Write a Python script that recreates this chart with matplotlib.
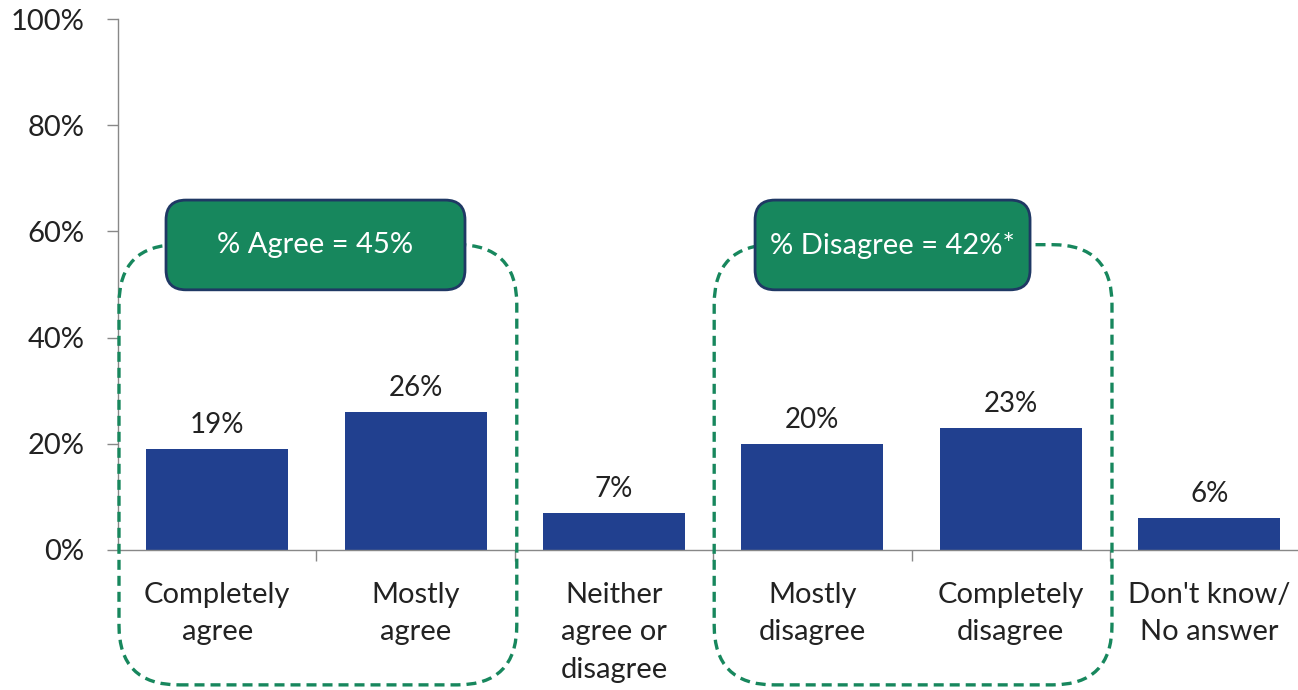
import matplotlib
matplotlib.use("Agg")
import matplotlib.pyplot as plt
from matplotlib.patches import FancyBboxPatch

categories = ["Completely\nagree", "Mostly\nagree", "Neither\nagree or\ndisagree",
              "Mostly\ndisagree", "Completely\ndisagree", "Don't know/\nNo answer"]
values = [19, 26, 7, 20, 23, 6]
value_labels = ["19%", "26%", "7%", "20%", "23%", "6%"]
yticks = [0, 20, 40, 60, 80, 100]
ytick_labels = ["0%", "20%", "40%", "60%", "80%", "100%"]
group_labels = ["% Agree = 45%", "% Disagree = 42%*"]
group_members = [(0, 1), (3, 4)]

plt.rcParams['font.family'] = ['Lato', 'DejaVu Sans']

W, H = 1298, 690
fig = plt.figure(figsize=(W / 100, H / 100), dpi=100)
fig.patch.set_facecolor("white")
ax = fig.add_axes([118 / W, 140 / H, 1 - 118 / W, 531 / H])

x = list(range(len(categories)))
bar_color = "#21408f"
ax.bar(x, values, width=0.715, color=bar_color, zorder=2)
for xi, v, lab in zip(x, values, value_labels):
    ax.annotate(lab, (xi, v), xytext=(0, 8), textcoords="offset points",
                ha="center", va="bottom", fontsize=20, color="#222222")

xunit = 198.4
yunit = 5.31
ax.set_xlim(-0.5, -0.5 + (W - 118) / xunit)
ax.set_ylim(0, 100)

ax.set_yticks(yticks)
ax.set_yticklabels(ytick_labels, fontsize=21, color="#222222")
ax.set_xticks([i + 0.5 for i in range(len(categories) - 1)])
ax.set_xticklabels([])
ax.tick_params(axis="y", length=8, width=1, color="#888888", pad=16)
ax.tick_params(axis="x", length=8, width=1, color="#888888", direction="out")
for s in ["top", "right"]:
    ax.spines[s].set_visible(False)
for s in ["left", "bottom"]:
    ax.spines[s].set_color("#888888")
    ax.spines[s].set_linewidth(1)

for xi, cat in zip(x, categories):
    ax.annotate(cat, (xi, 0), xytext=(0, -23), textcoords="offset points",
                ha="center", va="top", fontsize=21, color="#222222",
                linespacing=1.55, annotation_clip=False)

aspect = xunit / yunit
green = "#17875d"
navy = "#1f3864"
for (a, b), lab in zip(group_members, group_labels):
    # dashed rounded group outline
    x0 = a - 0.5 + 0.005
    x1 = b + 0.5 + 0.01
    y0 = -25.4
    y1 = 57.5
    dash = FancyBboxPatch((x0, y0), x1 - x0, y1 - y0,
                          boxstyle="round,pad=0,rounding_size=0.3",
                          mutation_aspect=aspect, fill=False,
                          edgecolor=green, linewidth=2.4,
                          linestyle=(0, (3, 1.8)), clip_on=False, zorder=3)
    ax.add_patch(dash)

# label boxes
box_x = [(-0.258, 1.249), (2.711, 4.097)]
for (bx0, bx1), lab in zip(box_x, group_labels):
    box = FancyBboxPatch((bx0, 49.0), bx1 - bx0, 16.9,
                         boxstyle="round,pad=0,rounding_size=0.1",
                         mutation_aspect=aspect, facecolor=green,
                         edgecolor=navy, linewidth=2, clip_on=False, zorder=4)
    ax.add_patch(box)
    ax.text((bx0 + bx1) / 2, 57.4, lab, ha="center", va="center",
            fontsize=21, color="white", zorder=5)

fig.savefig("out.png", dpi=100, facecolor="white")
